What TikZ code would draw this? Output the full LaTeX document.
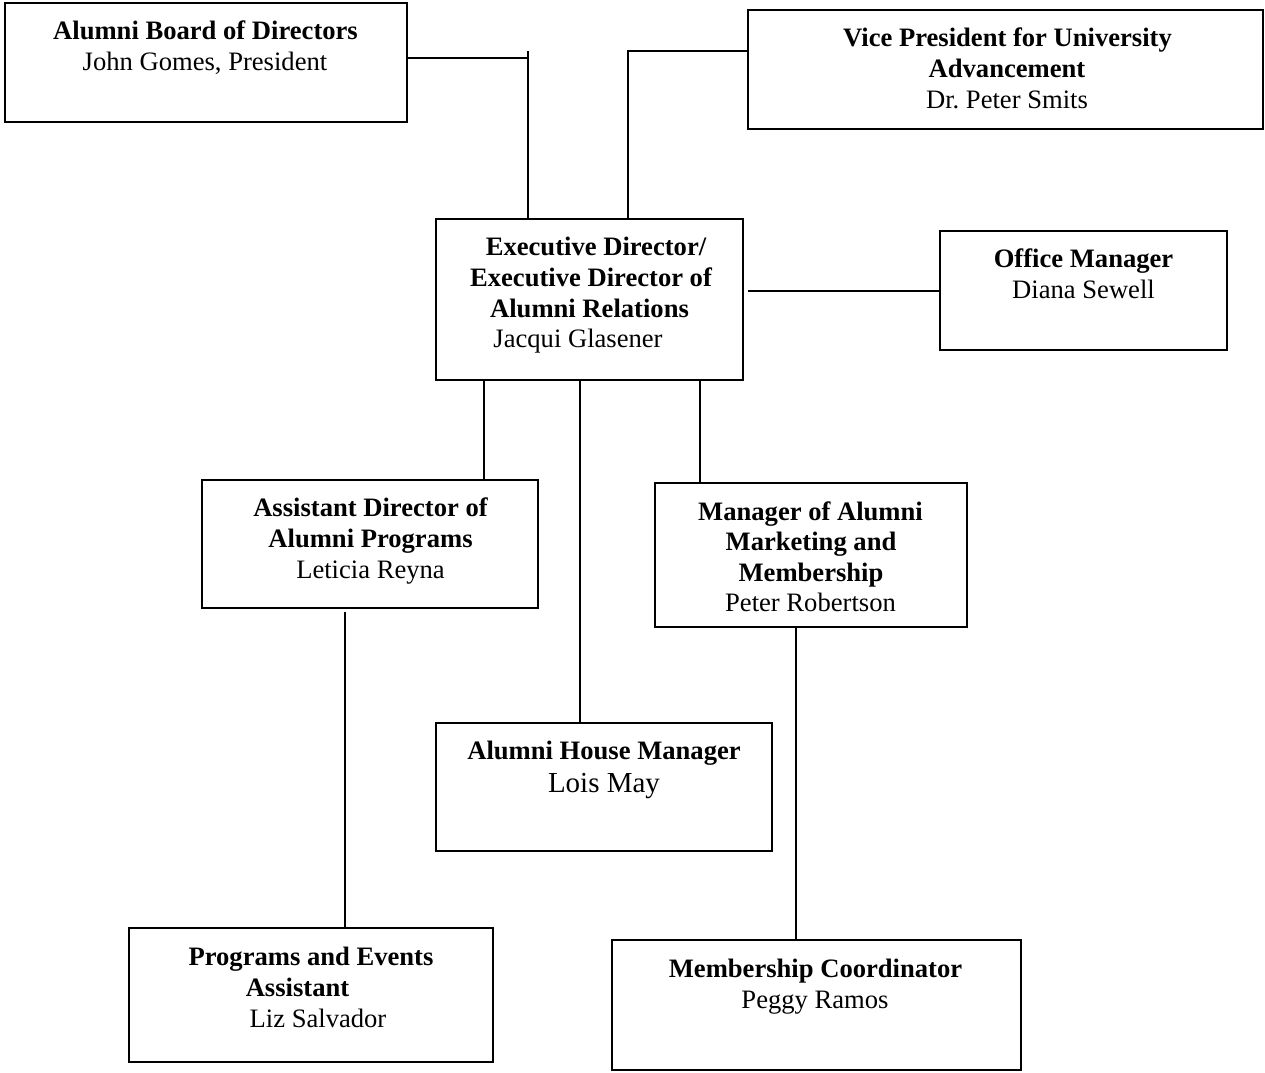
\documentclass[tikz,border=0pt]{standalone}
\usepackage{fontspec}
\setmainfont{Liberation Serif}
\frenchspacing
\begin{document}
\begin{tikzpicture}[x=1pt,y=-1pt,
  box/.style={draw,line width=1.6pt},
  conn/.style={line width=1.6pt},
  hd/.style={anchor=base,inner sep=0pt,font=\fontsize{26.6}{31}\selectfont\bfseries},
  nm/.style={anchor=base,inner sep=0pt,font=\fontsize{26.6}{31}\selectfont},
  nmbig/.style={anchor=base,inner sep=0pt,font=\fontsize{29}{33}\selectfont}]
\useasboundingbox[fill=white] (0,0) rectangle (1265,1072);
% boxes
\draw[box] (5,3) rectangle (407,122);
\coordinate (board) at (407,58);
\draw[box] (748,10) rectangle (1263,129);
\coordinate (vp) at (748,51);
\draw[box] (436,219) rectangle (743,380);
\draw[box] (940,231) rectangle (1227,350);
\draw[box] (202,480) rectangle (538,608);
\draw[box] (655,483) rectangle (967,627);
\draw[box] (436,723) rectangle (772,851);
\draw[box] (129,928) rectangle (493,1062);
\draw[box] (612,940) rectangle (1021,1070);
% texts
\node[hd] (b1) at (205.5,39) {Alumni Board of Directors};
\node[nm] (b2) at (205,70) {John Gomes, President};
\node[hd] (v1) at (1007.5,46) {Vice President for University};
\node[hd] (v2) at (1007,77) {Advancement};
\node[nm] (v3) at (1007,108) {Dr.\ Peter Smits};
\node[hd] (e1) at (596,255) {Executive Director/};
\node[hd] (e2) at (591,286) {Executive Director of};
\node[hd] (e3) at (589.5,317) {Alumni Relations};
\node[nm] (e4) at (578,347) {Jacqui Glasener};
\node[hd] (o1) at (1083.5,267) {Office Manager};
\node[nm] (o2) at (1083.5,298) {Diana Sewell};
\node[hd] (a1) at (370.5,516) {Assistant Director of};
\node[hd] (a2) at (370.5,547) {Alumni Programs};
\node[nm] (a3) at (370.5,578) {Leticia Reyna};
\node[hd] (m1) at (810.5,520) {Manager of Alumni};
\node[hd] (m2) at (811,550) {Marketing and};
\node[hd] (m3) at (811,581) {Membership};
\node[nm] (m4) at (810.5,611) {Peter Robertson};
\node[hd] (h1) at (604,759) {Alumni House Manager};
\node[nmbig] (h2) at (604,792) {Lois May};
\node[hd] (p1) at (311,965) {Programs and Events};
\node[hd] (p2) at (297.5,996) {Assistant};
\node[nm] (p3) at (318,1027) {Liz Salvador};
\node[hd] (c1) at (815.5,977) {Membership Coordinator};
\node[nm] (c2) at (815,1008) {Peggy Ramos};
% connectors
\coordinate (tick) at (528,51);
\coordinate (bj) at (528,58);
\coordinate (ex1) at (528,219);
\coordinate (vj) at (628,51);
\coordinate (ex2) at (628,219);
\draw[conn] (board) -- (bj);
\draw[conn] (tick) -- (ex1);
\draw[conn] (vp) -- (vj) -- (ex2);
\coordinate (exr) at (748,291);
\coordinate (ofl) at (940,291);
\draw[conn] (exr) -- (ofl);
\coordinate (eb1) at (484,380);
\coordinate (ad) at (484,480);
\draw[conn] (eb1) -- (ad);
\coordinate (eb2) at (580,380);
\coordinate (hs) at (580,723);
\draw[conn] (eb2) -- (hs);
\coordinate (eb3) at (700,380);
\coordinate (mg) at (700,483);
\draw[conn] (eb3) -- (mg);
\coordinate (adb) at (345,612);
\coordinate (pg) at (345,928);
\draw[conn] (adb) -- (pg);
\coordinate (mgb) at (796,627);
\coordinate (mc) at (796,940);
\draw[conn] (mgb) -- (mc);
\end{tikzpicture}
\end{document}
